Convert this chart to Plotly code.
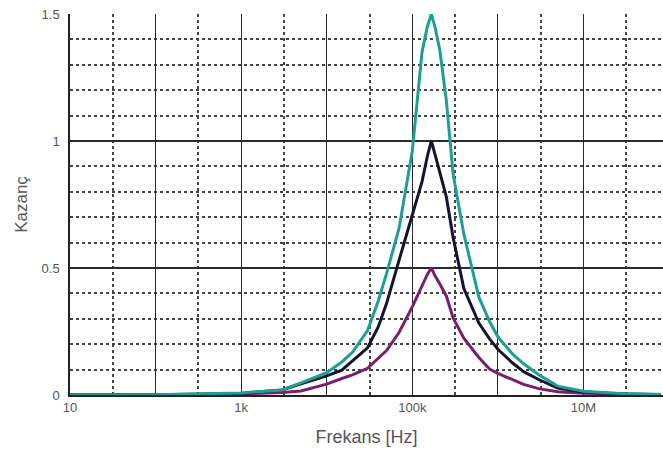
import plotly.graph_objects as go

freq = [10, 100, 1000, 3000, 5000, 10000, 15000, 20000, 30000, 40000, 50000, 70000,
        100000, 130000, 150000, 167000, 185000, 210000, 250000, 300000, 400000, 600000,
        800000, 1000000, 1500000, 2000000, 3000000, 5000000, 10000000, 30000000, 80000000]

gain_high = [0.0, 0.001, 0.008, 0.02, 0.048, 0.088, 0.13, 0.168, 0.254, 0.37, 0.478, 0.656,
             0.96, 1.35, 1.45, 1.5, 1.446, 1.357, 1.16, 0.87, 0.634, 0.385,
             0.289, 0.229, 0.16, 0.123, 0.08, 0.035, 0.015, 0.005, 0.002]

gain_mid = [0.0, 0.001, 0.006, 0.02, 0.044, 0.075, 0.098, 0.133, 0.186, 0.268, 0.36, 0.53,
            0.71, 0.84, 0.94, 1.0, 0.945, 0.877, 0.78, 0.62, 0.42, 0.283,
            0.221, 0.18, 0.125, 0.092, 0.061, 0.027, 0.012, 0.004, 0.002]

gain_low = [0.0, 0.0, 0.004, 0.01, 0.016, 0.043, 0.065, 0.079, 0.105, 0.146, 0.175, 0.246,
            0.347, 0.43, 0.475, 0.5, 0.468, 0.437, 0.39, 0.303, 0.224, 0.148,
            0.102, 0.085, 0.06, 0.042, 0.025, 0.013, 0.007, 0.003, 0.001]

x_major = [10, 100, 1000, 10000, 100000, 1000000, 10000000]
x_major_text = ["10", "", "1k", "", "100k", "", "10M"]
x_minor = [31.62, 316.2, 3162, 31623, 316228, 3162278, 31622777]
y_major = [0, 0.5, 1, 1.5]
y_major_text = ["0", "0.5", "1", "1.5"]

fig = go.Figure()
series = [
    (gain_low, "#7a1f6e"),
    (gain_mid, "#141432"),
    (gain_high, "#1f9e96"),
]
for vals, col in series:
    fig.add_trace(go.Scatter(x=freq, y=vals, mode="lines",
                             line=dict(color=col, width=3), showlegend=False,
                             cliponaxis=False))

font = dict(family="Liberation Sans, Arial, sans-serif", color="#555555")

fig.update_layout(
    width=663, height=464,
    margin=dict(l=70, r=0, t=14, b=69),
    plot_bgcolor="white", paper_bgcolor="white",
    font=font,
    xaxis=dict(
        type="log", range=[1, 7.93],
        tickmode="array", tickvals=x_major, ticktext=x_major_text,
        tickfont=dict(size=13, color="#555555"),
        showgrid=True, gridcolor="#2a2a2a", gridwidth=1.3,
        minor=dict(tickmode="array", tickvals=x_minor, showgrid=True,
                   gridcolor="#444444", griddash="dot", gridwidth=1.6, ticks=""),
        showline=True, linecolor="#222222", linewidth=1.5, mirror=False,
        zeroline=False, ticks="",
        title=dict(text="Frekans [Hz]", font=dict(size=18, color="#555555"), standoff=16),
    ),
    yaxis=dict(
        range=[0, 1.5],
        tickmode="array", tickvals=y_major, ticktext=y_major_text,
        tickfont=dict(size=13, color="#555555"),
        showgrid=True, gridcolor="#2a2a2a", gridwidth=1.5,
        minor=dict(dtick=0.1, showgrid=True, gridcolor="#444444",
                   griddash="dot", gridwidth=1.6, ticks=""),
        showline=True, linecolor="#222222", linewidth=1.5,
        zeroline=False, ticks="", ticklabelstandoff=6,
        title=dict(text="Kazanç", font=dict(size=17, color="#555555"), standoff=10),
    ),
)

fig.write_html("out.html")
